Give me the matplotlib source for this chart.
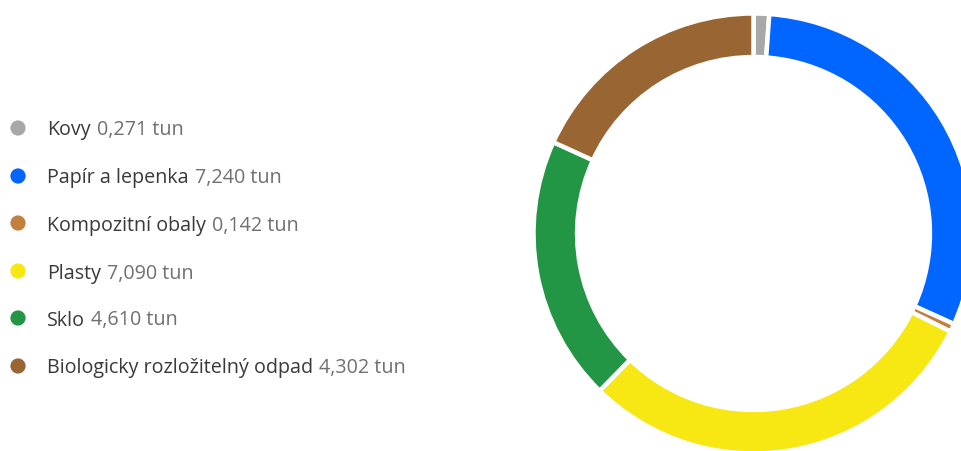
import matplotlib
matplotlib.use("Agg")
import matplotlib.pyplot as plt

# ── Data ─────────────────────────────────────────────
labels = ["Kovy", "Papír a lepenka", "Kompozitní obaly", "Plasty", "Sklo",
          "Biologicky rozložitelný odpad"]
values = [0.271, 7.240, 0.142, 7.090, 4.610, 4.302]
value_text = ["0,271 tun", "7,240 tun", "0,142 tun", "7,090 tun", "4,610 tun",
              "4,302 tun"]
colors = ["#A8A8A8", "#0066FF", "#C2803F", "#F7E713", "#239646", "#996633"]

W, H = 962, 451
fig = plt.figure(figsize=(W / 100, H / 100), dpi=100)
plt.rcParams["font.family"] = ["Open Sans", "DejaVu Sans"]

# ── Donut ───────────────────────────────────────────
cx, cy, r = 753.5, 233.5, 220
ax = fig.add_axes([(cx - r) / W, (H - cy - r) / H, 2 * r / W, 2 * r / H])
ax.pie(values, colors=colors, startangle=90, counterclock=False, radius=1,
       wedgeprops=dict(width=0.198, edgecolor="white", linewidth=3.2))
ax.set_xlim(-1, 1)
ax.set_ylim(-1, 1)
ax.set_aspect("equal")
ax.axis("off")

# ── Legend ──────────────────────────────────────────
lg = fig.add_axes([0, 0, 1, 1])
lg.set_xlim(0, W)
lg.set_ylim(H, 0)
lg.axis("off")
ys = [128, 176, 223, 271, 318, 366]
for y, lab, val, col in zip(ys, labels, value_text, colors):
    lg.scatter([18], [y], s=120, color=col, edgecolors="none")
    t = lg.text(47, y, lab, fontsize=14.2, color="#3a3a3a", va="center_baseline")
    lg.annotate(val, xy=(1, 0), xycoords=t, xytext=(4.5, 0),
                textcoords="offset points", fontsize=14.2, color="#707070",
                va="bottom")

fig.savefig("out.png", dpi=100)
